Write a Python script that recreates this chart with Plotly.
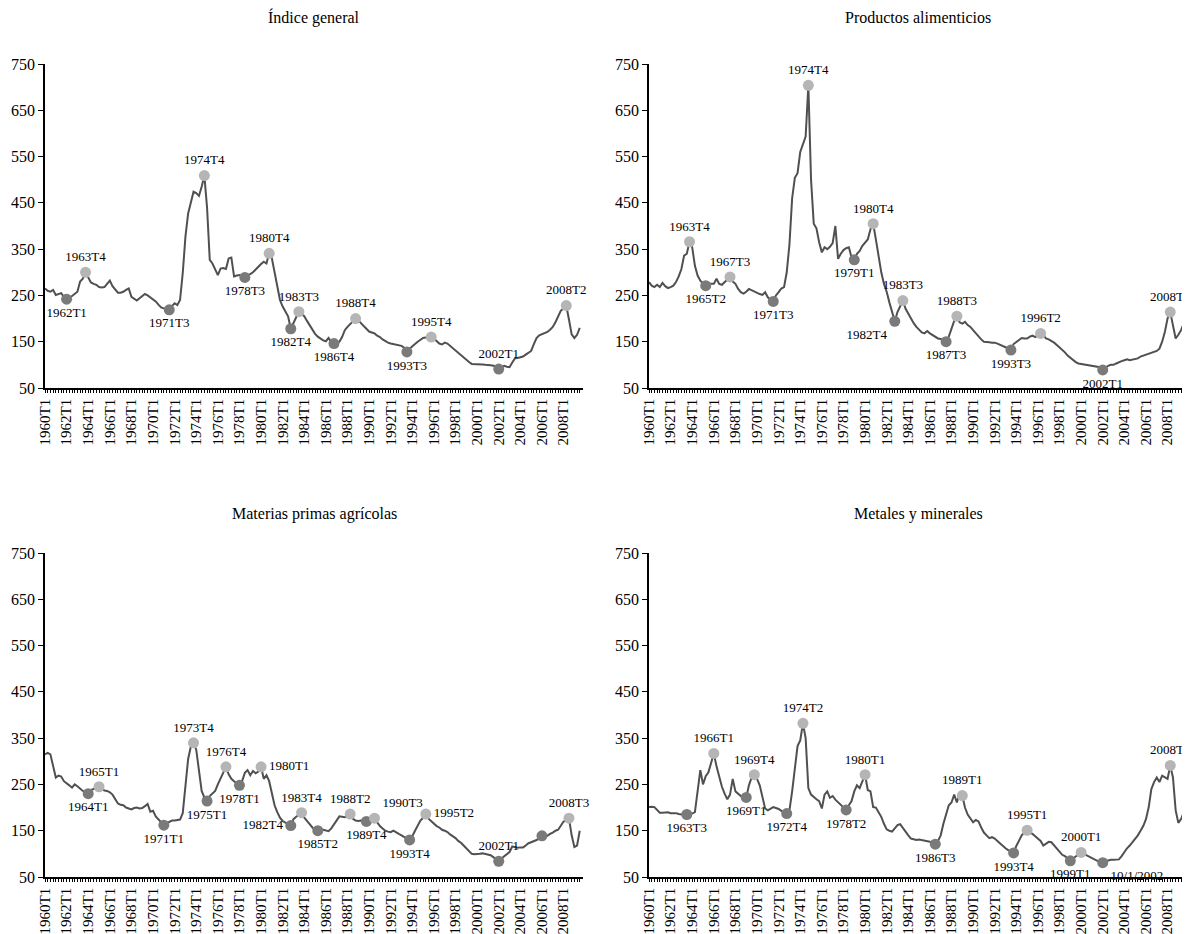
import plotly.graph_objects as go

# The page body adds an 8 px margin, so the figure is laid out in target pixels minus 8.
OFF = 8
W, H = 1190 - OFF, 934 - OFF

years = list(range(1960, 2010))
quarters = [f"{y}T{q}" for y in years for q in (1, 2, 3, 4)][:199]
tick_labels = [q if i % 8 == 0 else "" for i, q in enumerate(quarters)]

indice_general = [
    265, 260, 258, 262,  251, 253, 255, 247,  242, 244, 248, 252,  258, 280, 286, 300,
    290, 278, 275, 273,  268, 267, 268, 275,  282, 270, 262, 256,  256, 258, 262, 265,
    247, 242, 239, 244,  248, 253, 250, 246,  242, 237, 230, 224,  222, 221, 219, 227,
    233, 229, 240, 298,  377, 427, 450, 474,  471, 465, 485, 509,  440, 327, 319, 305,
    294, 308, 309, 307,  330, 332, 291, 293,  294, 290, 289, 294,  296, 300, 305, 312,
    318, 323, 319, 341,  330, 298, 265, 240,  226, 215, 205, 178,  190, 205, 215, 210,
    205, 195, 185, 175,  167, 161, 156, 153,  151, 158, 149, 146,  147, 150, 160, 175,
    182, 188, 195, 200,  196, 190, 183, 177,  172, 170, 168, 163,  160, 155, 151, 148,
    146, 145, 143, 142,  141, 137, 128, 135,  141, 145, 150, 155,  158, 159, 159, 160,
    157, 152, 146, 144,  148, 146, 141, 136,  130, 125, 120, 114,  110, 106, 102, 102,
    102, 101, 101, 100,  100, 99, 98, 97,  91, 95, 98, 96,  95, 105, 114, 115,
    116, 118, 122, 126,  130, 145, 158, 164,  166, 168, 171, 176,  182, 192, 205, 217,
    222, 228, 198, 166,  158, 165, 180,
]

productos_alimenticios = [
    279, 271, 268, 273,  268, 277, 270, 266,  268, 271, 279, 291,  307, 336, 340, 366,
    354, 314, 293, 282,  276, 271, 275, 275,  275, 286, 275, 273,  278, 284, 290, 280,
    275, 264, 257, 254,  258, 264, 261, 258,  255, 253, 251, 257,  246, 240, 237, 250,
    257, 265, 268, 300,  360, 460, 504, 514,  560, 577, 593, 704,  500, 405, 395, 365,
    343, 354, 350, 355,  363, 400, 329, 340,  348, 352, 354, 332,  327, 340, 346, 357,
    365, 371, 393, 405,  371, 330, 300, 275,  258, 235, 215, 194,  214, 228, 239, 221,
    210, 200, 190, 182,  176, 170, 168, 173,  168, 164, 160, 157,  156, 153, 150, 161,
    180, 195, 205, 192,  189, 193, 186, 182,  175, 168, 160, 155,  150, 150, 149, 148,
    148, 146, 143, 140,  138, 136, 132, 145,  150, 155, 158, 157,  157, 161, 163, 160,
    165, 168, 164, 157,  155, 152, 148, 143,  138, 132, 127, 120,  115, 110, 106, 103,
    102, 101, 100, 99,  98, 97, 96, 95,  89, 94, 98, 100,  100, 103, 106, 108,
    110, 112, 110, 111,  112, 114, 118, 120,  122, 124, 126, 128,  130, 135, 150, 171,
    200, 214, 186, 157,  165, 175, 190,
]

materias_agricolas = [
    315, 318, 315, 288,  265, 269, 267, 257,  253, 248, 243, 250,  246, 240, 236, 234,
    230, 238, 240, 243,  245, 240, 237, 236,  233, 228, 218, 209,  206, 205, 200, 198,
    196, 199, 200, 198,  199, 203, 208, 191,  193, 181, 174, 168,  162, 166, 169, 172,
    172, 173, 174, 188,  240, 305, 332, 340,  325, 277, 236, 222,  214, 225, 230, 236,
    250, 263, 278, 288,  272, 262, 257, 252,  248, 258, 275, 281,  270, 279, 274, 278,
    288, 262, 270, 257,  232, 205, 190, 178,  171, 167, 164, 161,  175, 180, 185, 189,
    178, 170, 164, 157,  152, 150, 152, 152,  151, 149, 155, 164,  172, 181, 180, 179,
    182, 186, 176, 172,  171, 172, 171, 170,  172, 175, 177, 168,  160, 155, 150, 148,
    147, 150, 146, 143,  140, 136, 133, 130,  138, 150, 160, 172,  178, 186, 176, 170,
    165, 160, 157, 152,  150, 147, 142, 138,  134, 128, 124, 118,  112, 106, 100, 99,
    99, 100, 101, 100,  99, 97, 93, 88,  84, 90, 94, 100,  104, 116, 115, 113,
    114, 114, 118, 123,  125, 127, 130, 133,  139, 135, 140, 143,  146, 150, 152, 162,
    170, 172, 177, 140,  115, 118, 150,
]

metales_minerales = [
    201, 202, 201, 196,  189, 189, 189, 190,  188, 188, 188, 186,  185, 186, 185, 187,
    187, 190, 240, 281,  250, 268, 276, 296,  317, 289, 265, 245,  230, 218, 228, 262,
    235, 230, 225, 224,  222, 248, 265, 271,  262, 248, 221, 198,  194, 197, 201, 199,
    197, 193, 188, 187,  194, 235, 289, 333,  345, 382, 350, 242,  228, 222, 218, 214,
    198, 228, 235, 221,  225, 217, 211, 206,  201, 195, 205, 214,  235, 248, 242, 258,
    271, 238, 235, 201,  200, 190, 180, 165,  153, 150, 148, 155,  162, 164, 155, 148,
    140, 133, 131, 130,  131, 130, 128, 127,  126, 124, 121, 128,  140, 165, 185, 205,
    211, 228, 211, 232,  226, 200, 185, 175,  168, 173, 170, 157,  146, 140, 134, 136,
    133, 128, 122, 117,  112, 108, 105, 102,  117, 130, 140, 146,  151, 146, 143, 138,
    133, 128, 118, 122,  126, 125, 118, 112,  103, 98, 95, 90,  85, 90, 94, 99,
    103, 100, 97, 94,  90, 88, 85, 83,  81, 84, 86, 87,  87, 88, 88, 95,
    105, 112, 118, 125,  133, 140, 150, 160,  175, 200, 240, 255,  265, 255, 269, 265,
    262, 291, 265, 194,  167, 175, 190,
]

titles = ["Índice general", "Productos alimenticios",
          "Materias primas agrícolas", "Metales y minerales"]

# (quarter, text position)
ig_peaks = [("1963T4", "top center"), ("1974T4", "top center"), ("1980T4", "top center"),
            ("1983T3", "top center"), ("1988T4", "top center"), ("1995T4", "top center"),
            ("2008T2", "top center")]
ig_troughs = [("1962T1", "bottom center"), ("1971T3", "bottom center"), ("1978T3", "bottom center"),
              ("1982T4", "bottom center"), ("1986T4", "bottom center"), ("1993T3", "bottom center"),
              ("2002T1", "top center")]
pa_peaks = [("1963T4", "top center"), ("1967T3", "top center"), ("1974T4", "top center"),
            ("1980T4", "top center"), ("1983T3", "top center"), ("1988T3", "top center"),
            ("1996T2", "top center"), ("2008T2", "top center")]
pa_troughs = [("1965T2", "bottom center"), ("1971T3", "bottom center"), ("1979T1", "bottom center"),
              ("1982T4", "bottom left"), ("1987T3", "bottom center"), ("1993T3", "bottom center"),
              ("2002T1", "bottom center")]
mpa_peaks = [("1965T1", "top center"), ("1973T4", "top center"), ("1976T4", "top center"),
             ("1980T1", "middle right"), ("1983T4", "top center"), ("1988T2", "top center"),
             ("1990T3", "top right"), ("1995T2", "middle right"), ("2008T3", "top center")]
mpa_troughs = [("1964T1", "bottom center"), ("1971T1", "bottom center"), ("1975T1", "bottom center"),
               ("1978T1", "bottom center"), ("1982T4", "middle left"), ("1985T2", "bottom center"),
               ("1989T4", "bottom center"), ("1993T4", "bottom center"), ("2002T1", "top center"),
               ("2006T1", "")]
mm_peaks = [("1966T1", "top center"), ("1969T4", "top center"), ("1974T2", "top center"),
            ("1980T1", "top center"), ("1989T1", "top center"), ("1995T1", "top center"),
            ("2000T1", "top center"), ("2008T2", "top center")]
mm_troughs = [("1963T3", "bottom center"), ("1969T1", "bottom center"), ("1972T4", "bottom center"),
              ("1978T2", "bottom center"), ("1986T3", "bottom center"), ("1993T4", "bottom center"),
              ("1999T1", "bottom center"), ("2002T1", "bottom right")]
label_override = {("mm", "2002T1"): "10/1/2002"}

panels = [
    ("ig", indice_general, ig_peaks, ig_troughs),
    ("pa", productos_alimenticios, pa_peaks, pa_troughs),
    ("mpa", materias_agricolas, mpa_peaks, mpa_troughs),
    ("mm", metales_minerales, mm_peaks, mm_troughs),
]

LINE = "#505050"
LIGHT = "#b5b5b5"
DARK = "#7a7a7a"
FONT = "Liberation Serif"


def px_x(p):
    return (p - OFF) / W


def px_y(p):
    return 1 - (p - OFF) / H


# target-pixel layout
xdom = [(px_x(45), px_x(583)), (px_x(649), px_x(1187))]
ydom = [(px_y(388), px_y(64)), (px_y(877), px_y(553))]
title_y = [px_y(18), px_y(514)]

fig = go.Figure()
layout = dict(width=W, height=H, margin=dict(l=0, r=0, t=0, b=0),
              paper_bgcolor="white", plot_bgcolor="white", showlegend=False,
              font=dict(family=FONT, color="black"))
annotations = []

for k, (key, series, peaks, troughs) in enumerate(panels):
    row, col = divmod(k, 2)
    xa = "x" if k == 0 else f"x{k + 1}"
    ya = "y" if k == 0 else f"y{k + 1}"
    xname = "xaxis" if k == 0 else f"xaxis{k + 1}"
    yname = "yaxis" if k == 0 else f"yaxis{k + 1}"

    fig.add_trace(go.Scatter(x=quarters, y=series, mode="lines",
                             line=dict(color=LINE, width=2), xaxis=xa, yaxis=ya,
                             hoverinfo="x+y"))
    for pts, color in ((troughs, DARK), (peaks, LIGHT)):
        qs = [p[0] for p in pts]
        ys = [series[quarters.index(q)] for q in qs]
        txt = [label_override.get((key, q), q) if pos else "" for q, pos in pts]
        tpos = [pos if pos else "top center" for q, pos in pts]
        fig.add_trace(go.Scatter(x=qs, y=ys, mode="markers+text", text=txt,
                                 textposition=tpos, cliponaxis=False,
                                 textfont=dict(family=FONT, size=13, color="black"),
                                 marker=dict(color=color, size=11),
                                 xaxis=xa, yaxis=ya))

    layout[xname] = dict(domain=list(xdom[col]), anchor=ya, type="category",
                         categoryorder="array", categoryarray=quarters,
                         range=[0, 199.2], tickmode="array", tickvals=quarters,
                         ticktext=tick_labels, tickangle=-90,
                         tickfont=dict(family=FONT, size=15, color="black"),
                         ticks="outside", ticklen=3, tickwidth=1, tickcolor="black",
                         showline=True, linecolor="black", linewidth=1.5,
                         showgrid=False, zeroline=False, automargin=False)
    layout[yname] = dict(domain=list(ydom[row]), anchor=xa, range=[50, 750],
                         tickmode="array", tickvals=[50, 150, 250, 350, 450, 550, 650, 750],
                         tickfont=dict(family=FONT, size=16, color="black"),
                         ticks="outside", ticklen=5, tickcolor="black",
                         showline=True, linecolor="black", linewidth=1.5,
                         showgrid=False, zeroline=False, automargin=False)
    annotations.append(dict(text=titles[k], xref="paper", yref="paper",
                            x=sum(xdom[col]) / 2, y=title_y[row],
                            xanchor="center", yanchor="middle", showarrow=False,
                            font=dict(family=FONT, size=16, color="black")))

layout["annotations"] = annotations
fig.update_layout(**layout)
fig.write_html("out.html")
